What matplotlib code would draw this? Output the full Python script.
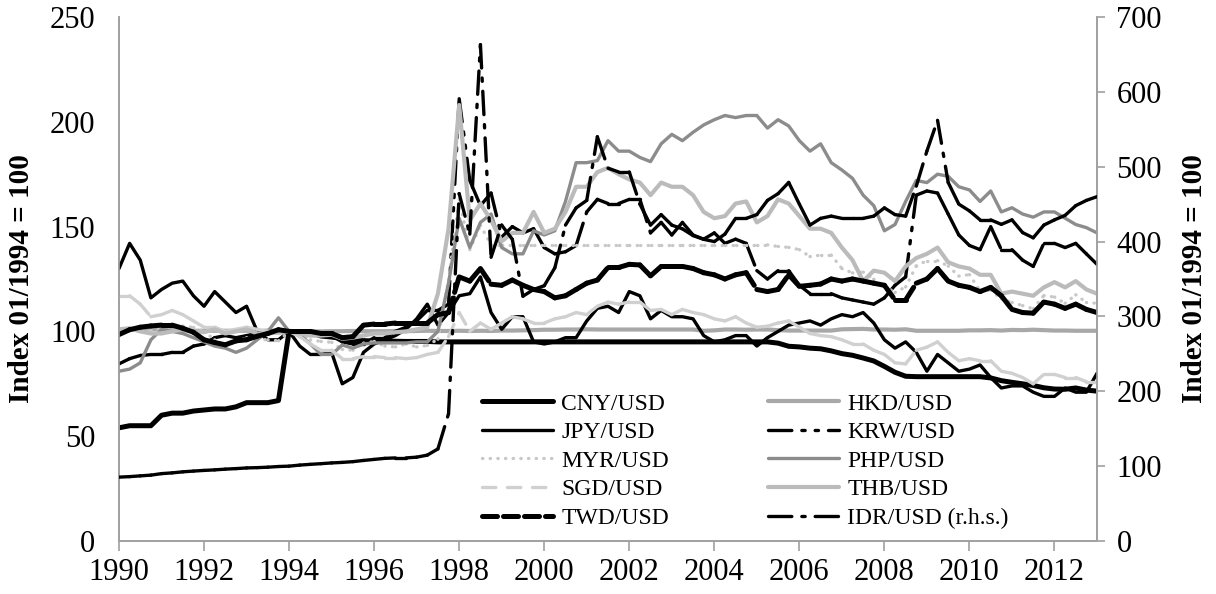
import numpy as np
import matplotlib
matplotlib.use("Agg")
import matplotlib.pyplot as plt
from matplotlib.collections import LineCollection
from matplotlib.lines import Line2D

plt.rcParams['font.family'] = ['Liberation Serif', 'DejaVu Serif']

# quarterly observations, Jan 1990 ... Jan 2013 (index 01/1994 = 100)
dates = 1990 + np.arange(93) / 4.0

CNY = [54, 55, 55, 55, 60, 61, 61, 62, 62.5, 63, 63, 64, 66, 66, 66, 67,
       100, 99.8, 99.3, 97.8, 97.3, 96.6, 95.5, 95.6, 95.4, 95.5, 95.3, 95.2,
       95.2, 95.2, 95.0, 95.0,
       95, 95, 95, 95, 95, 95, 95, 95, 95, 95, 95, 95, 95, 95, 95, 95,
       95, 95, 95, 95, 95, 95, 95, 95, 95, 95, 95, 95,
       95, 95, 94.4, 92.9, 92.6, 92.0, 91.7, 90.7, 89.4, 88.6, 87.3, 85.9,
       83.3, 80.5, 78.6, 78.4, 78.4, 78.4, 78.4, 78.4, 78.4, 78.4, 77.8, 76.5,
       75.7, 75.0, 74.2, 73.1, 72.5, 72.4, 73.0, 72.0, 71.5]

HKD = [101, 101, 101, 101, 101, 100.7, 100.5, 100.3, 100.3, 100.3, 100.3, 100.3,
       100.3, 100.1, 100.4, 100.2, 100, 100, 100, 100, 100.1, 100.1, 100.2, 100.1,
       100.1, 100.1, 100.2, 100.1, 100.2, 100.3, 100.2, 100.2, 100.3, 100.2, 100.3, 100.2,
       100.4, 100.4, 100.5, 100.6, 100.8, 100.8, 100.9, 100.9, 101, 100.9, 100.9, 100.9,
       100.9, 100.9, 100.9, 100.9, 100.9, 100.9, 100.9, 100.3, 100.5, 100.9, 100.9, 100.8,
       100.9, 100.9, 100.6, 100.4, 100.4, 100.4, 100.4, 100.4, 101, 101.1, 101.2, 100.9,
       100.9, 100.8, 101, 100.3, 100.3, 100.3, 100.3, 100.3, 100.5, 100.5, 100.6, 100.4,
       100.7, 100.6, 100.8, 100.6, 100.4, 100.4, 100.3, 100.3, 100.3]

JPY = [130, 142, 134, 116, 120, 123, 124, 117, 112, 119, 114, 109,
       112, 100, 96, 96, 100, 93, 89, 89, 90, 75, 78, 90,
       94, 96, 98, 101, 106, 113, 103, 109, 117, 118, 126, 109,
       101, 107, 107, 95, 94, 95, 97, 97, 105, 111, 112, 109,
       119, 117, 106, 110, 107, 107, 106, 98, 95, 96, 98, 98,
       93, 97, 100, 103, 104, 105, 103, 106, 108, 107, 109, 104,
       96, 92, 95, 90, 81, 89, 85, 81, 82, 84, 78, 73,
       74, 74, 71, 69, 69, 73, 71, 71, 80]

KRW = [84.5, 87, 88.5, 89, 89, 90, 90, 93, 94, 97, 98, 97,
       98, 99, 100, 100, 100, 100, 99, 99, 98, 95, 94, 94,
       97, 97, 100, 102, 105, 110, 110, 113, 211, 172, 160, 166,
       145, 150, 147, 149, 140, 137, 138, 141, 157, 163, 161, 161,
       163, 163, 147, 152, 146, 152, 146, 144, 147, 142, 144, 142,
       129, 125, 129, 129, 122, 118, 118, 118, 116, 115, 114, 113,
       116, 122, 126, 165, 167, 166, 156, 146, 141, 139, 150, 139,
       139, 134, 131, 142, 142, 140, 142, 137, 132]

MYR = [100.4, 101.5, 100.4, 100.4, 101, 102.6, 102.6, 101.9, 100, 96, 93, 94.8,
       97, 96.3, 96, 95.5, 100, 99.6, 96, 95.2, 94.8, 91.4, 91, 94.4,
       95.2, 93, 92.6, 94, 92.6, 93.3, 96.3, 124.5, 163, 139, 150.6, 141.3,
       141.3, 141.3, 141.3, 141.3, 141.3, 141.3, 141.3, 141.3, 141.3, 141.3, 141.3, 141.3,
       141.3, 141.3, 141.3, 141.3, 141.3, 141.3, 141.3, 141.3, 141.3, 141.3, 141.3, 141.3,
       141.3, 141.3, 140.5, 140.1, 139, 135.7, 136.4, 136.4, 130, 127.9, 128.3, 124.9,
       121.6, 118.6, 121.2, 131.2, 133.8, 133.8, 131.2, 126.4, 127.1, 119.3, 119.7, 115.6,
       113.8, 112.3, 110.8, 117.1, 116.4, 113.4, 117.5, 113.8, 113.4]

PHP = [81, 82, 85, 96, 101, 100, 99, 97, 95, 93, 92, 90,
       92, 96, 100, 106.5, 100, 98.5, 94, 89, 89, 93.5, 92, 94,
       94.5, 94.5, 94.5, 94.5, 95, 95, 100, 123, 154, 140, 152, 156,
       140, 137, 137, 148, 146, 148, 162, 180.5, 180.5, 181.5, 191, 186,
       186, 183, 181, 189.5, 194, 191, 195, 198.5, 201, 203, 202, 203,
       203, 197, 201, 198, 191, 186, 189.5, 180.5, 177, 173, 165, 160,
       148, 151, 162, 172, 171, 175, 174, 169, 167.5, 162, 167, 157,
       159, 156, 154.5, 157, 157, 154, 151, 149.5, 147]

SGD = [117, 117, 113, 107, 108, 110, 108, 105, 102, 102, 100, 101,
       102, 101, 100, 99, 100, 97.5, 94, 91, 91, 87, 87, 88,
       88, 87.5, 87.5, 87, 87.5, 89, 90, 97.5, 109, 100, 104, 101,
       104, 107, 106, 104, 104, 106, 107, 109, 108, 112, 114, 113,
       114, 114, 110, 110.5, 108, 110.5, 109, 108, 106, 105, 107, 104,
       102, 102.5, 104, 105, 102, 99, 98, 97.5, 96, 94, 94, 91,
       89, 85, 84.5, 91, 92.5, 95, 90, 86, 87, 86, 86, 81,
       80, 78, 75, 79.5, 79.5, 78, 78, 76, 76]

THB = [101, 101.5, 100, 99, 99, 100, 101, 100, 99.6, 101, 99, 100,
       101, 99, 99, 99.6, 100, 99, 98, 98, 98.4, 96.5, 97, 98,
       99, 99, 99.6, 100, 101, 102, 118, 149, 208, 153, 161, 153,
       143, 147, 147, 157, 147, 149, 157, 169, 169, 176, 178, 175,
       172.5, 171, 165, 171, 169, 169, 165, 157, 154, 155, 161, 162,
       152, 155, 163, 161, 155, 149, 149, 147, 140, 134, 124, 129,
       128, 124, 131, 135, 137, 140, 133, 131, 130, 127, 127, 118,
       119, 118, 117, 121, 123.5, 121, 124, 120, 118]

TWD = [98.5, 100.8, 102, 102.6, 103, 103, 101.5, 99.6, 96, 94.7, 93.6, 95.5,
       96, 97.7, 99, 100.8, 100, 100, 100, 99, 99, 97, 97.5, 103,
       103.5, 103.5, 104, 104, 104, 104, 108, 109, 126, 124, 130, 122.5,
       122, 124.5, 122, 120, 119, 116, 117, 120, 123, 124.5, 130.5, 130.5,
       132, 131.7, 126.5, 131, 131, 131, 130, 128, 127, 125, 127, 128,
       120, 119, 120, 127, 121.5, 122, 122.6, 125, 124, 125, 124, 123,
       122, 115, 115, 123, 125, 130, 124, 122, 121, 119, 121, 117,
       110.5, 109, 108.7, 114, 113, 111, 113, 110.5, 109]

IDR = [85.3, 86, 87, 88, 90, 91, 92.4, 93.4, 94.3, 95, 96, 96.7,
       97.6, 98, 98.6, 99.5, 100, 101.4, 102.4, 103.3, 104.3, 105, 106, 107.6,
       109, 110.4, 111, 111, 112, 114.7, 123, 170, 464, 410, 663, 379,
       422, 403, 327, 336, 341, 365, 422, 445, 455, 540, 498, 493,
       493, 450, 422, 436, 422, 417, 408, 403, 400, 410, 431, 431,
       436, 455, 464, 479, 450, 422, 431, 434, 431, 431, 431, 434,
       445, 436, 434, 474, 521, 562, 479, 450, 441, 429, 429, 423,
       429, 412, 405, 422, 429, 435, 448, 455, 460]

x_ticks = list(range(1990, 2013, 2))
left_ticks = [0, 50, 100, 150, 200, 250]
right_ticks = [0, 100, 200, 300, 400, 500, 600, 700]

W, H = 1216, 594
fig = plt.figure(figsize=(W / 100, H / 100), dpi=100)
ax = fig.add_axes([119 / W, 53 / H, (1097 - 119) / W, 524 / H])
ax2 = ax.twinx()

AXC = '#A0A0A0'


def seg_line(axis, x, y, color, lw, dashes, z):
    pts = np.column_stack([x, y])
    segs = np.stack([pts[:-1], pts[1:]], axis=1)
    lc = LineCollection(segs, colors=color, linewidths=lw,
                        linestyles=[(0, dashes)], capstyle='round', zorder=z)
    axis.add_collection(lc)


styles = {
    'CNY': dict(color='black', lw=3.6, ls='-'),
    'HKD': dict(color='#A8A8A8', lw=3.0, ls='-'),
    'JPY': dict(color='black', lw=2.4, ls='-'),
    'KRW': dict(color='black', lw=2.4, ls=(7, 3, 1, 3, 1, 3)),
    'MYR': dict(color='#C8C8C8', lw=2.4, ls=(0.1, 2.2)),
    'PHP': dict(color='#8C8C8C', lw=2.4, ls='-'),
    'SGD': dict(color='#D0D0D0', lw=2.4, ls=(4, 3.5)),
    'THB': dict(color='#BBBBBB', lw=3.0, ls='-'),
    'TWD': dict(color='black', lw=3.6, ls=(3, 1.2)),
    'IDR': dict(color='black', lw=2.4, ls=(7, 3, 1, 3)),
}
data = {'CNY': CNY, 'HKD': HKD, 'JPY': JPY, 'KRW': KRW, 'MYR': MYR,
        'PHP': PHP, 'SGD': SGD, 'THB': THB, 'TWD': TWD, 'IDR': IDR}

for z, name in enumerate(['CNY', 'HKD', 'JPY', 'KRW', 'MYR', 'PHP', 'SGD', 'THB', 'TWD', 'IDR']):
    st = styles[name]
    target = ax2 if name == 'IDR' else ax
    if st['ls'] == '-':
        target.plot(dates, data[name], color=st['color'], lw=st['lw'],
                    solid_joinstyle='round', solid_capstyle='round', zorder=2 + z)
    else:
        seg_line(target, dates, data[name], st['color'], st['lw'], st['ls'], 2 + z)

ax.set_xlim(1990, 2013.0)
ax.set_ylim(0, 250)
ax2.set_ylim(0, 700)
ax.set_xticks(x_ticks)
ax.set_xticklabels([str(t) for t in x_ticks], fontsize=22)
ax.set_yticks(left_ticks)
ax.set_yticklabels([str(t) for t in left_ticks], fontsize=22)
ax2.set_yticks(right_ticks)
ax2.set_yticklabels([str(t) for t in right_ticks], fontsize=22)

ax.tick_params(axis='x', direction='out', length=7, width=1.2, color=AXC, pad=5)
ax.tick_params(axis='y', length=0, pad=17)
ax2.tick_params(axis='y', direction='out', length=6, width=1.2, color=AXC, pad=8)

for a in (ax, ax2):
    a.spines['top'].set_visible(False)
    for s in ('left', 'right', 'bottom'):
        a.spines[s].set_color(AXC)
        a.spines[s].set_linewidth(1.2)
    a.patch.set_visible(False)

ax.set_ylabel('Index 01/1994 = 100', fontsize=21, fontweight='bold')
ax.yaxis.set_label_coords((35 - 119) / 978, 0.5)
ax2.set_ylabel('Index 01/1994 = 100', fontsize=21, fontweight='bold', rotation=90)
ax2.yaxis.set_label_coords((1181 - 119) / 978, 0.5)

labels = {'CNY': 'CNY/USD', 'HKD': 'HKD/USD', 'JPY': 'JPY/USD', 'KRW': 'KRW/USD',
          'MYR': 'MYR/USD', 'PHP': 'PHP/USD', 'SGD': 'SGD/USD', 'THB': 'THB/USD',
          'TWD': 'TWD/USD', 'IDR': 'IDR/USD (r.h.s.)'}
order = ['CNY', 'JPY', 'MYR', 'SGD', 'TWD', 'HKD', 'KRW', 'PHP', 'THB', 'IDR']
handles = []
for name in order:
    st = styles[name]
    ls = '-' if st['ls'] == '-' else (0, st['ls'])
    handles.append(Line2D([], [], color=st['color'], lw=st['lw'], linestyle=ls,
                          dash_capstyle='round', solid_capstyle='round'))
leg = ax2.legend(handles, [labels[n] for n in order], ncol=2, frameon=False,
                 fontsize=17, handlelength=3.0, handletextpad=0.35,
                 columnspacing=4.2, labelspacing=0.30, loc='upper left',
                 bbox_to_anchor=(482 / W, 1 - 393 / H), bbox_transform=fig.transFigure,
                 borderpad=0, borderaxespad=0)

fig.savefig('out.png', dpi=100)
